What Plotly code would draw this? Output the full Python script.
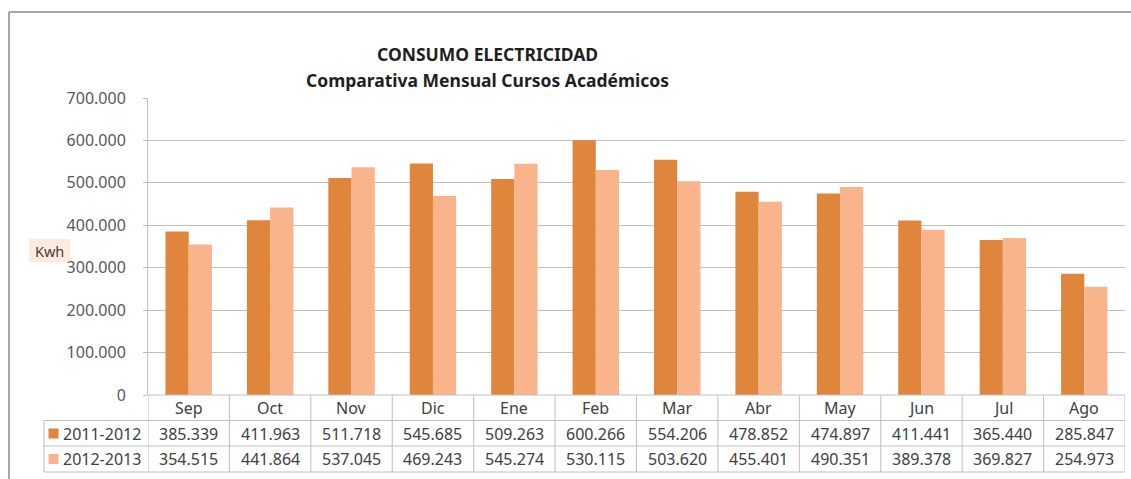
import plotly.graph_objects as go

months = ["Sep", "Oct", "Nov", "Dic", "Ene", "Feb", "Mar", "Abr", "May", "Jun", "Jul", "Ago"]
series_names = ["2011-2012", "2012-2013"]
values_2011_2012 = [385339, 411963, 511718, 545685, 509263, 600266, 554206, 478852, 474897, 411441, 365440, 285847]
values_2012_2013 = [354515, 441864, 537045, 469243, 545274, 530115, 503620, 455401, 490351, 389378, 369827, 254973]
y_ticks = [0, 100000, 200000, 300000, 400000, 500000, 600000, 700000]
colors = ["#E0853C", "#F9B48B"]

W, H = 1131, 479
PL, PR, PT, PB = 148, 1125, 98, 395  # plot area in pixels
pw, ph = PR - PL, PB - PT

def px(x):
    return (x - PL) / pw

def py(y):
    return (PB - y) / ph

FONT = "Noto Sans"
GRID = "#BFBFBF"
TXT = "#404040"

def fmt(v):
    return f"{v:,}".replace(",", ".")

fig = go.Figure()
all_series = [values_2011_2012, values_2012_2013]
for name, vals, col in zip(series_names, all_series, colors):
    fig.add_trace(go.Bar(x=list(range(len(months))), y=vals, name=name, marker=dict(color=col, line=dict(width=0))))

shapes = []
annotations = []

# outer chart border (top and left visible)
shapes.append(dict(type="line", xref="paper", yref="paper", x0=px(9), x1=px(W + 5), y0=py(12), y1=py(12),
                   line=dict(color="#8A8A8A", width=1.5)))
shapes.append(dict(type="line", xref="paper", yref="paper", x0=px(9), x1=px(9), y0=py(12), y1=py(H + 5),
                   line=dict(color="#8A8A8A", width=1.5)))

# table rows
row_y = [395, 420.5, 446, 472]
for i, yy in enumerate(row_y):
    x0 = px(148) if i == 0 else px(44)
    shapes.append(dict(type="line", xref="paper", yref="paper", x0=x0, x1=1, y0=py(yy), y1=py(yy),
                       line=dict(color=GRID, width=1)))
# table columns
for i in range(len(months) + 1):
    shapes.append(dict(type="line", xref="x", yref="paper", x0=i - 0.5, x1=i - 0.5, y0=py(395), y1=py(472),
                       line=dict(color=GRID, width=1)))
shapes.append(dict(type="line", xref="paper", yref="paper", x0=px(44), x1=px(44), y0=py(420.5), y1=py(472),
                   line=dict(color=GRID, width=1)))

# category labels
for i, m in enumerate(months):
    annotations.append(dict(x=i, y=py(408), xref="x", yref="paper", text=m, showarrow=False,
                            font=dict(family=FONT, size=16, color=TXT), xanchor="center", yanchor="middle"))
# values rows
for r, (name, vals, col) in enumerate(zip(series_names, all_series, colors)):
    yc = [433.5, 459][r]
    for i, v in enumerate(vals):
        annotations.append(dict(x=i, y=py(yc), xref="x", yref="paper", text=fmt(v), showarrow=False,
                                font=dict(family=FONT, size=16, color=TXT), xanchor="center", yanchor="middle"))
    shapes.append(dict(type="rect", xref="paper", yref="paper", x0=px(48.5), x1=px(58.5), y0=py(yc - 5), y1=py(yc + 5),
                       fillcolor=col, line=dict(width=0)))
    annotations.append(dict(x=px(61), y=py(yc), xref="paper", yref="paper", text=name, showarrow=False,
                            font=dict(family=FONT, size=16, color=TXT), xanchor="left", yanchor="middle"))

# Kwh axis title with background
shapes.append(dict(type="rect", xref="paper", yref="paper", x0=px(29), x1=px(70), y0=py(239), y1=py(262),
                   fillcolor="#FDEBDD", line=dict(width=0), layer="below"))
annotations.append(dict(x=px(49.5), y=py(251), xref="paper", yref="paper", text="Kwh", showarrow=False,
                        font=dict(family=FONT, size=14.5, color=TXT), xanchor="center", yanchor="middle"))

# title
annotations.append(dict(x=px(487.5), y=py(54), xref="paper", yref="paper", text="<b>CONSUMO ELECTRICIDAD</b>",
                        showarrow=False, font=dict(family=FONT, size=17.5, color="#1F1F1F"), xanchor="center", yanchor="middle"))
annotations.append(dict(x=px(487.5), y=py(80), xref="paper", yref="paper", text="<b>Comparativa Mensual Cursos Académicos</b>",
                        showarrow=False, font=dict(family=FONT, size=17.5, color="#1F1F1F"), xanchor="center", yanchor="middle"))

fig.update_layout(
    width=W, height=H,
    margin=dict(l=PL, r=W - PR, t=PT, b=H - PB, pad=0),
    paper_bgcolor="white", plot_bgcolor="white",
    separators=",.",
    showlegend=False,
    barmode="group", bargap=0.43, bargroupgap=0,
    shapes=shapes, annotations=annotations,
    xaxis=dict(range=[-0.5, len(months) - 0.5], showticklabels=False, showgrid=False, zeroline=False,
               showline=False, ticks=""),
    yaxis=dict(range=[0, 700000], tickvals=y_ticks, tickformat=",d", showgrid=True, gridcolor=GRID, gridwidth=1,
               zeroline=False, showline=True, linecolor=GRID, linewidth=1, ticks="outside", ticklen=4, tickcolor=GRID,
               tickfont=dict(family=FONT, size=16, color="#595959"), ticklabelstandoff=14),
)

fig.write_html("out.html", config={"displayModeBar": False},
               post_script="document.body.style.margin='0';document.body.style.overflow='hidden';")
